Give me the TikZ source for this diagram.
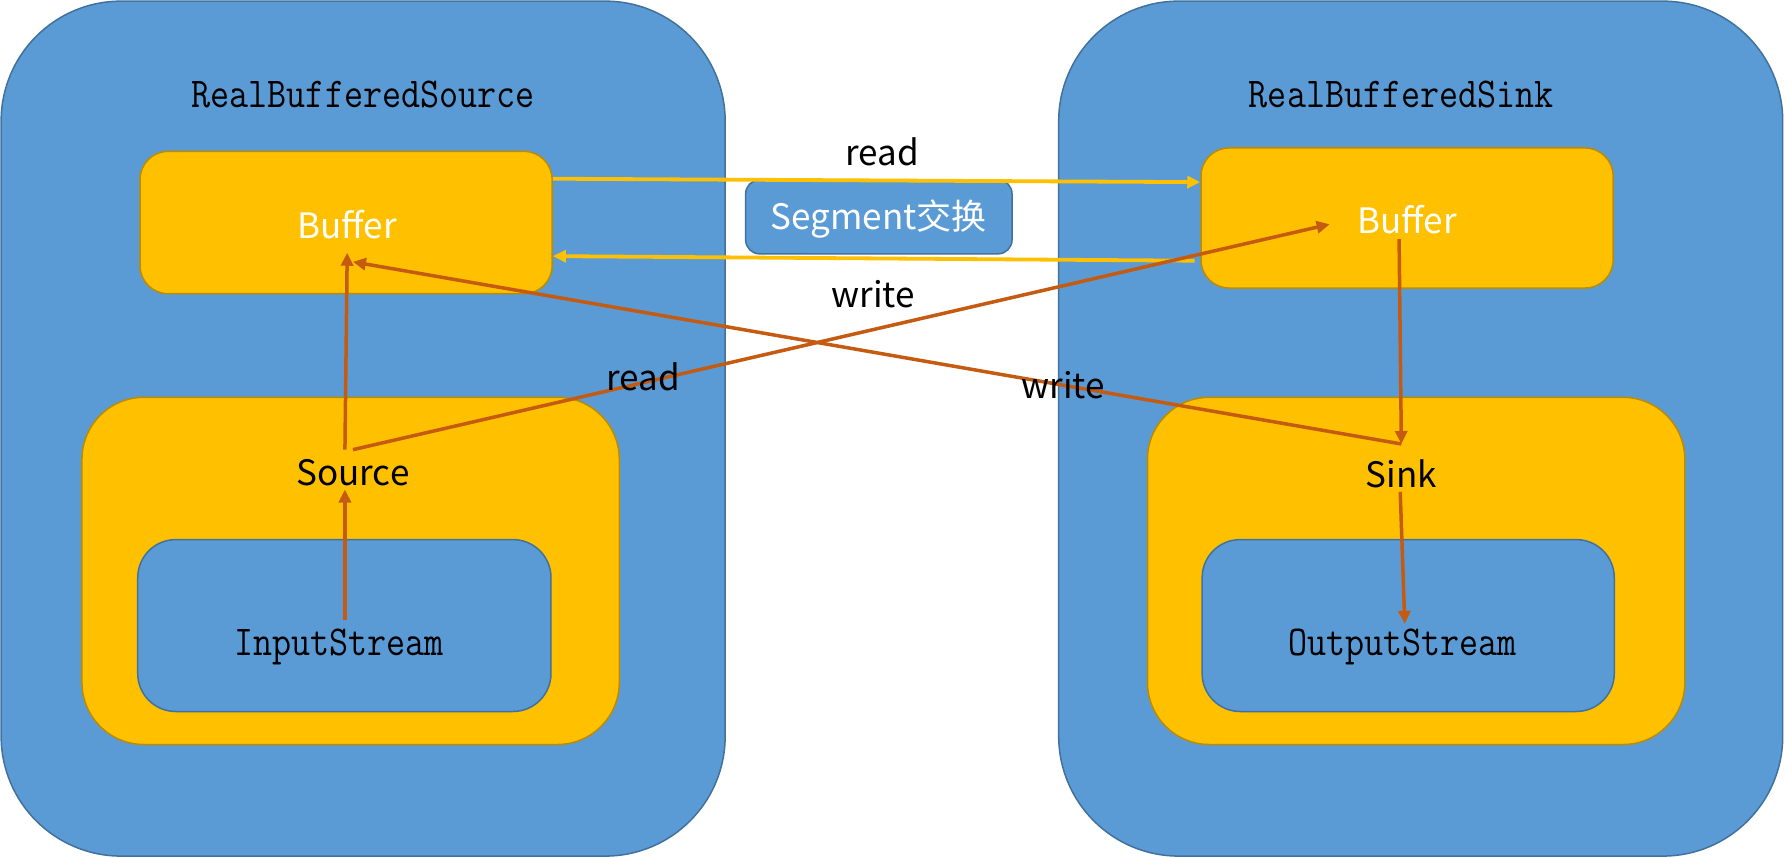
\documentclass[tikz,border=0pt]{standalone}
\usepackage{fontspec}
\usepackage{graphicx}
\newfontfamily\cjk{Noto Sans CJK SC}
\usetikzlibrary{arrows.meta,fit}
\definecolor{bfill}{HTML}{5B9BD5}
\definecolor{bline}{HTML}{41719C}
\definecolor{yfill}{HTML}{FFC000}
\definecolor{yline}{HTML}{BC8C00}
\definecolor{oarr}{HTML}{C55A11}
\begin{document}
\begin{tikzpicture}[x=1.1384pt,y=-1.1384pt,
 bigbox/.style={draw=bline,fill=bfill,line width=1.5pt,rounded corners=120pt,inner sep=0pt},
 bufbox/.style={draw=yline,fill=yfill,line width=1.5pt,rounded corners=28pt,inner sep=0pt},
 srcbox/.style={draw=yline,fill=yfill,line width=1.5pt,rounded corners=62pt,inner sep=0pt},
 strbox/.style={draw=bline,fill=bfill,line width=1.5pt,rounded corners=38pt,inner sep=0pt},
 segbox/.style={draw=bline,fill=bfill,line width=1.5pt,rounded corners=14pt,inner sep=0pt},
 mono/.style={font=\fontsize{37}{40}\ttfamily, text=black, inner sep=0pt},
 sans/.style={font=\cjk\fontsize{35}{40}\selectfont, inner sep=0pt},
 yarr/.style={draw=yfill,line width=3.8pt,-{Triangle[length=13pt,width=12pt]}},
 oarrow/.style={draw=oarr,line width=3.5pt,-{Triangle[length=13pt,width=12pt]}},
]
\useasboundingbox (0,0) rectangle (1568,753);
\fill[white] (0,0) rectangle (1568,753);
% big containers
\node[bigbox, fit={(1,1) (637,752)}] (lbig) {};
\node[bigbox, fit={(930,1) (1566,752)}] (rbig) {};
% buffers
\node[bufbox, fit={(123,133) (485,258)}] (lbuf) {};
\node[bufbox, fit={(1055,130) (1417,253)}] (rbuf) {};
% source / sink
\node[srcbox, fit={(72,349) (544,654)}] (lsrc) {};
\node[srcbox, fit={(1008,349) (1480,654)}] (rsnk) {};
% streams
\node[strbox, fit={(121,474) (484,625)}] (lin) {};
\node[strbox, fit={(1056,474) (1418,625)}] (rout) {};
% segment
\node[segbox, fit={(655,158) (889,223)}] (seg) {};
% texts
\node[mono] (tsrc) at (319,83) {\scalebox{1}[1.15]{RealBufferedSource}};
\node[mono] (tsnk) at (1231,83) {\scalebox{1}[1.15]{RealBufferedSink}};
\node[mono] (tin) at (298,568) {\scalebox{1}[1.15]{InputStream}};
\node[mono] (tout) at (1232,568) {\scalebox{1}[1.15]{OutputStream}};
\node[sans,text=white] (tlbuf) at (305,197) {Buffer};
\node[sans,text=white] (trbuf) at (1236,193) {Buffer};
\node[sans,text=white] (tseg) at (772,192) {Segment交换};
\node[sans] (tsource) at (310,415) {Source};
\node[sans] (tsink) at (1231,416) {Sink};
% yellow arrows
\draw[yarr] (lbuf.east |- 0,157) -- (rbuf.west |- 0,160);
\draw[yarr] (rbuf.west |- 0,229) ++(-5,0) -- (lbuf.east |- 0,225);
% orange arrows
\coordinate (srcTop) at (303,395);
\coordinate (snkTop) at (1231,390);
\coordinate (lbufIn) at (305,222);
\coordinate (lbufIn2) at (310,230);
\coordinate (rbufIn) at (1168,197);
\coordinate (rbufOut) at (1229,210);
\coordinate (inOut) at (303,545);
\coordinate (srcBot) at (303,430);
\coordinate (snkBot) at (1230,432);
\coordinate (outIn) at (1234,548);
\draw[oarrow] (inOut) -- (srcBot);
\draw[oarrow] (srcTop) -- (lbufIn);
\draw[oarrow] (srcTop) ++(7,0) -- (rbufIn);
\draw[oarrow] (snkTop) -- (lbufIn2);
\draw[oarrow] (rbufOut) -- (snkTop);
\draw[oarrow] (snkBot) -- (outIn);
% labels
\node[sans] (lread1) at (775,133) {read};
\node[sans] (lwrite1) at (767,258) {write};
\node[sans] (lread2) at (565,331) {read};
\node[sans] (lwrite2) at (934,338) {write};
\end{tikzpicture}
\end{document}
